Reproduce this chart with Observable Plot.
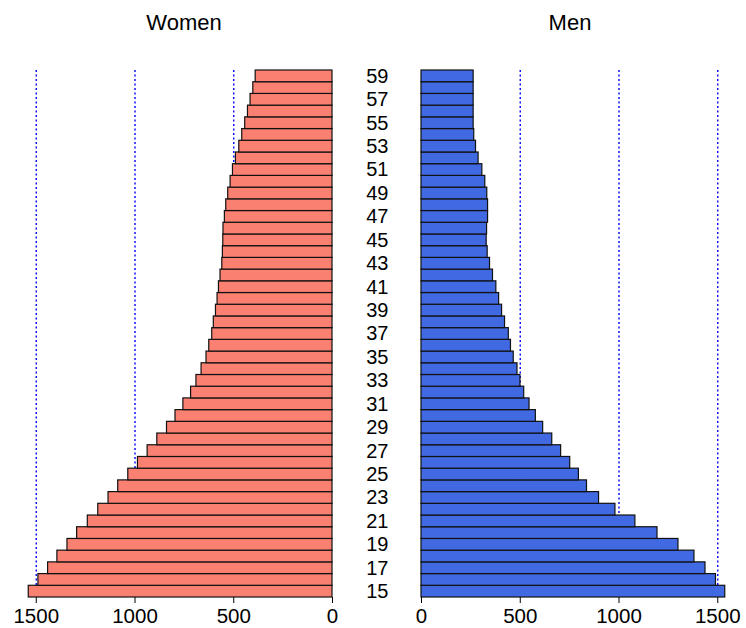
<!DOCTYPE html>
<html>
<head>
<meta charset="utf-8">
<script src="https://cdn.jsdelivr.net/npm/d3@7"></script>
<script src="https://cdn.jsdelivr.net/npm/@observablehq/plot@0.6"></script>
<style>
  html, body { margin: 0; padding: 0; background: white; }
  #wrap { display: flex; width: 746px; height: 628px; }
  #wrap svg { display: block; overflow: visible; }
</style>
</head>
<body>
<div id="wrap"></div>
<script>
const ages = [15,16,17,18,19,20,21,22,23,24,25,26,27,28,29,30,31,32,33,34,35,36,37,38,39,40,41,42,43,44,45,46,47,48,49,50,51,52,53,54,55,56,57,58,59];
const women = [1538,1489,1440,1393,1342,1293,1239,1186,1134,1085,1034,985,936,887,838,795,755,716,689,663,638,624,609,601,590,582,575,567,558,555,553,552,545,538,528,516,504,489,472,457,442,428,415,401,389];
const men = [1538,1491,1438,1382,1301,1195,1083,982,899,838,797,753,707,662,616,579,547,520,501,486,467,453,442,423,408,393,379,362,347,335,330,332,337,337,333,323,308,289,276,267,264,264,264,264,264];
const xTicks = [0, 500, 1000, 1500];
const gridValues = [500, 1000, 1500];
const ageLabels = ages.filter(a => a % 2 === 1);
const titles = ["Women", "Men"];

const font = "'Liberation Sans', Arial, Helvetica, sans-serif";
const womenData = ages.map((a, i) => ({age: a, value: women[i]}));
const menData = ages.map((a, i) => ({age: a, value: men[i]}));
const yDomain = ages.slice().reverse();

function panel(data, fill, title, reverse, width, margins, titleDx, withAgeAxis) {
  const marks = [
    Plot.ruleX(gridValues, {stroke: "#0000ff", strokeWidth: 1.4, strokeDasharray: "2,2.5"}),
    Plot.barX(data, {x1: 0, x2: "value", y: "age", fill: fill, stroke: "#111", strokeWidth: 1.2, inset: 0}),
    Plot.axisX({ticks: xTicks, tickSize: 6, tickPadding: 5, fontSize: 20.5, label: null, tickFormat: d => String(d)}),
    Plot.text([title], {text: d => d, frameAnchor: "top", dy: -56, dx: titleDx, fontSize: 22, fill: "black"})
  ];
  if (withAgeAxis) {
    marks.push(Plot.axisY({ticks: ageLabels, anchor: "left", tickSize: 0, tickPadding: 33, fontSize: 20, label: null, tickFormat: d => String(d)}));
  }
  return Plot.plot({
    width: width,
    height: 628,
    marginTop: 70,
    marginBottom: 31,
    marginLeft: margins[0],
    marginRight: margins[1],
    style: {fontFamily: font, fontSize: "20px", background: "white", color: "black", overflow: "visible"},
    x: {domain: [0, 1600], reverse: reverse, axis: null, label: null},
    y: {type: "band", domain: yDomain, padding: 0, axis: null, label: null},
    marks
  });
}

const wrap = document.getElementById("wrap");
wrap.appendChild(panel(womenData, "#FA8072", titles[0], true, 360, [16, 28], 9.5, false));
wrap.appendChild(panel(menData, "#4169E1", titles[1], false, 386, [61, 9], -9.5, true));
</script>
</body>
</html>
